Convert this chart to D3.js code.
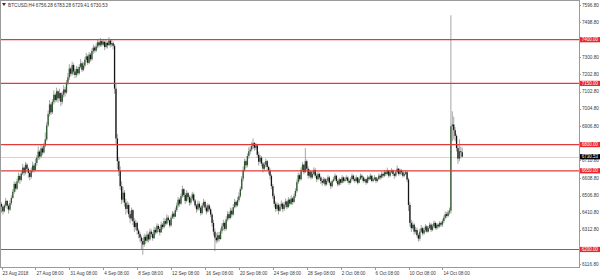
<!DOCTYPE html>
<html><head><meta charset="utf-8">
<script src="https://cdn.jsdelivr.net/npm/d3@7"></script>
<style>html,body{margin:0;padding:0;background:#fff;} svg{display:block;font-family:"Liberation Sans",Arial,sans-serif;}</style>
</head><body><svg id="c" width="600" height="280"></svg>
<script>
const symbol = "BTCUSD,H4";
const headerValues = ["6756.28", "6783.28", "6729.41", "6730.53"];
const firstOpen = 6460;
const closes = [
6445,6418,6452,6478,6450,6428,6465,
6495,6530,6575,6548,6590,6620,6598,
6635,6668,6640,6685,6662,6638,6615,6650,6680,6655,6695,
6725,6760,6732,6778,6755,6795,6830,
6910,6975,7030,6985,7045,7085,7055,7105,
7065,7095,7045,7085,7115,7098,
7155,7185,7235,7205,7255,7218,7198,
7232,7208,7245,7265,7228,7252,7285,
7305,7268,7315,7288,7335,7355,7338,
7362,7385,7368,7392,7372,7388,7358,7382,7368,7395,7372,7380,7365,
7120,6835,6705,
6650,6562,6485,6525,6468,6432,
6455,6402,6378,6425,6362,6328,6352,6308,6288,6268,
6248,6228,6272,6250,
6285,6258,6302,6288,6265,6312,6298,6335,6318,6298,6342,6328,6362,6348,6382,6368,6338,6382,6405,6388,6425,
6452,6485,6462,6505,6545,6512,6478,6522,6500,6468,6492,6515,6480,6452,
6430,6462,6440,6408,6452,6472,6440,6418,6452,6430,6400,
6352,6302,6268,6252,6282,6260,6305,
6332,6352,6318,6372,6402,6380,6422,6400,6442,6472,6452,6482,6505,6545,
6605,6655,6705,6682,6735,6762,6772,
6792,6808,6782,6795,
6742,6702,6725,6692,6662,6685,6705,6672,6652,6622,
6562,6505,6462,6432,6455,6422,6445,
6462,6432,6455,6475,6442,6485,6462,6492,6472,6505,6535,
6585,6625,6602,6655,6685,6642,6705,
6662,6622,6645,6612,6632,6655,6622,6602,6632,6612,6592,
6582,6602,6572,6592,6612,6582,6562,6592,6602,6622,6592,6572,6602,6582,6612,6592,6602,
6612,6592,6582,6602,6622,6602,6592,6612,6582,6602,6622,6612,6592,6602,6582,6612,6602,6622,6592,6602,6612,6592,6602,6622,6612,
6632,6622,6642,6632,6652,6622,6642,6652,6632,6622,6642,6662,6632,6652,6642,6622,6632,6642,
6600,6455,6352,6322,6342,
6302,6312,6282,6262,6302,6322,6292,6312,6332,6302,6322,6342,6312,6332,6352,6322,6342,6332,6352,6342,
6362,6382,6402,6392,6412,6422,
6905,6915,6882,
6850,6780,6720,6762,6756.28,6730.53
];
const highs = [
6470,6450,6462,6495,6482,6458,6480,
6510,6545,6590,6585,6605,6640,6630,
6650,6690,6675,6700,6695,6670,6650,6668,6702,6690,6720,
6740,6790,6770,6800,6790,6810,6870,
6930,6995,7055,7040,7060,7110,7095,7125,
7110,7120,7100,7105,7140,7130,
7170,7210,7260,7245,7275,7265,7235,
7250,7245,7260,7290,7275,7270,7300,
7325,7315,7330,7325,7350,7372,7365,
7380,7398,7395,7410,7400,7405,7395,7400,7390,7415,7400,7398,7390,
7375,7150,6860,
6730,6675,6590,6560,6540,6490,
6475,6468,6420,6440,6430,6380,6370,6360,6320,6300,
6280,6265,6290,6285,
6305,6295,6320,6315,6300,6330,6325,6350,6345,6330,6360,6352,6380,6375,6400,6395,6372,6395,6420,6415,6440,
6468,6500,6495,6520,6565,6550,6525,6540,6530,6510,6505,6530,6525,6490,
6460,6480,6475,6450,6465,6490,6480,6455,6465,6460,6440,
6410,6370,6320,6295,6300,6300,6320,
6350,6370,6360,6390,6420,6415,6440,6435,6460,6490,6480,6500,6525,6560,
6620,6675,6720,6715,6750,6785,6790,
6815,6835,6815,6810,
6800,6760,6740,6735,6700,6700,6720,6712,6680,6665,
6630,6575,6520,6475,6470,6465,6460,
6480,6470,6470,6492,6480,6500,6492,6510,6500,6520,6550,
6600,6640,6635,6670,6700,6690,6780,
6715,6675,6660,6650,6648,6670,6665,6635,6645,6640,6620,
6605,6615,6610,6605,6625,6620,6590,6600,6615,6635,6625,6600,6612,6605,6625,6618,6615,
6625,6618,6600,6612,6635,6628,6610,6625,6615,6610,6635,6630,6620,6612,6605,6625,6620,6635,6625,6612,6625,6615,6612,6635,6630,
6645,6640,6655,6650,6668,6655,6652,6665,6658,6640,6652,6680,6665,6662,6660,6648,6645,6652,
6650,6610,6470,6370,6360,
6350,6330,6325,6292,6318,6340,6330,6325,6345,6340,6335,6355,6350,6345,6365,6360,6352,6350,6362,6360,
6375,6395,6418,6415,6425,6440,
7540,6990,6960,
6900,6860,6800,6830,6790,6783.28
];
const lows = [
6410,6400,6412,6440,6430,6405,6420,
6455,6490,6520,6530,6540,6580,6575,
6590,6625,6622,6630,6648,6610,6595,6605,6640,6640,6650,
6680,6712,6715,6725,6740,6748,6785,
6820,6900,6960,6970,6975,7030,7040,7045,
7040,7050,7020,7030,7070,7075,
7090,7140,7170,7190,7195,7200,7180,
7185,7195,7200,7235,7215,7220,7240,
7270,7255,7262,7275,7280,7320,7325,
7330,7350,7355,7360,7360,7365,7340,7350,7350,7365,7355,7360,7345,
7090,6800,6660,
6620,6540,6460,6470,6445,6400,
6410,6385,6350,6365,6340,6300,6310,6285,6265,6240,
6200,6170,6215,6230,
6240,6240,6250,6270,6250,6260,6285,6290,6300,6280,6295,6315,6320,6335,6340,6355,6325,6330,6375,6375,6385,
6415,6440,6445,6455,6495,6500,6460,6470,6485,6450,6455,6480,6470,6440,
6410,6420,6425,6395,6400,6440,6425,6400,6410,6418,6385,
6330,6280,6190,6235,6240,6245,6255,
6290,6310,6305,6310,6360,6370,6375,6385,6395,6435,6440,6445,6470,6495,
6535,6590,6645,6665,6670,6720,6745,
6760,6775,6765,6770,
6725,6680,6690,6675,6640,6650,6670,6655,6630,6600,
6545,6490,6440,6415,6420,6400,6415,
6430,6415,6420,6440,6430,6440,6450,6455,6455,6465,6495,
6525,6575,6590,6595,6645,6630,6640,
6650,6605,6610,6600,6605,6625,6610,6585,6595,6600,6575,
6565,6575,6560,6565,6585,6570,6545,6555,6585,6595,6580,6560,6565,6570,6578,6582,6585,
6592,6580,6570,6578,6595,6590,6580,6585,6572,6578,6598,6600,6580,6585,6570,6578,6592,6598,6585,6585,6595,6580,6585,6598,6600,
6605,6610,6615,6620,6625,6610,6615,6635,6620,6605,6615,6635,6622,6625,6628,6610,6615,6625,
6585,6420,6330,6300,6315,
6285,6290,6270,6245,6250,6295,6280,6285,6300,6295,6298,6315,6300,6305,6325,6315,6312,6320,6325,6330,
6330,6350,6372,6380,6385,6400,
6405,6820,6830,
6820,6760,6690,6705,6720,6729.41
];
const priceTicks = [7596.80,7498.80,7300.80,7202.80,7102.80,7004.80,6906.80,6710.80,6608.80,6506.80,6410.80,6312.80,6116.80];
const levels = [7400, 7150, 6800, 6650, 6200];
const lastPrice = 6730.53;
const timeLabels = ["23 Aug 2018","27 Aug 08:00","31 Aug 08:00","4 Sep 08:00","8 Sep 08:00","12 Sep 08:00","16 Sep 08:00","20 Sep 08:00","24 Sep 08:00","28 Sep 08:00","2 Oct 08:00","6 Oct 08:00","10 Oct 08:00","14 Oct 08:00"];
const timeLabelBars = [0,24,48,72,96,120,144,168,192,216,240,264,288,312];

const bars = closes.map((c, i) => ({i, o: i === 0 ? firstOpen : closes[i - 1], h: highs[i], l: lows[i], c}));

const svg = d3.select("#c");
const plotR = 579, plotB = 267;
const x = d3.scaleLinear().domain([0, 409]).range([1.5, plotR + 0.5]);
const y = d3.scaleLinear().domain([6099.8, 7621.4]).range([plotB, 1]);
const py = v => Math.round(y(v)) + 0.5;

// bid line
svg.append("line").attr("x1", 0).attr("x2", plotR).attr("y1", py(lastPrice)).attr("y2", py(lastPrice))
  .attr("stroke", "#d4d4d4").attr("stroke-width", 1);

// candles
const g = svg.append("g");
g.selectAll("line.w").data(bars).join("line").attr("class", "w")
  .attr("x1", d => x(d.i)).attr("x2", d => x(d.i))
  .attr("y1", d => y(d.h)).attr("y2", d => y(d.l))
  .attr("stroke", "#9c9c9c").attr("stroke-width", 0.9);
g.selectAll("rect.b").data(bars).join("rect").attr("class", "b")
  .attr("x", d => x(d.i) - 0.65)
  .attr("width", 1.3)
  .attr("y", d => y(Math.max(d.o, d.c)))
  .attr("height", d => Math.max(1, Math.abs(y(d.o) - y(d.c))))
  .attr("fill", d => d.c >= d.o ? "#2e5a30" : "#151515");

// levels
svg.selectAll("line.lv").data(levels).join("line").attr("class", "lv")
  .attr("x1", 0).attr("x2", plotR)
  .attr("y1", d => y(d)).attr("y2", d => y(d))
  .attr("stroke", "#e03a3a").attr("stroke-width", 1.2);

// frame
svg.append("rect").attr("x", 0.5).attr("y", 0.5).attr("width", plotR).attr("height", plotB)
  .attr("fill", "none").attr("stroke", "#9a9a9a").attr("stroke-width", 1);

// price axis
svg.selectAll("text.pt").data(priceTicks).join("text").attr("class", "pt")
  .attr("x", 582).attr("y", d => y(d)).attr("dy", "0.35em")
  .attr("font-size", 4.7).attr("fill", "#3a3a3a").text(d => d.toFixed(2));
svg.selectAll("line.ptk").data(priceTicks).join("line").attr("class","ptk")
  .attr("x1", plotR).attr("x2", plotR + 2).attr("y1", d => py(d)).attr("y2", d => py(d))
  .attr("stroke", "#9a9a9a");

const tags = levels.map(v => ({v, bg: "#e8282a"})).concat([{v: lastPrice, bg: "#000"}]);
const tg = svg.selectAll("g.tag").data(tags).join("g").attr("class", "tag")
  .attr("transform", d => `translate(${plotR + 1},${y(d.v)})`);
tg.append("rect").attr("x", 0).attr("y", -2.6).attr("width", 20).attr("height", 5.2).attr("fill", d => d.bg);
tg.append("text").attr("x", 1.8).attr("y", 0).attr("dy", "0.36em").attr("font-size", 4.5).attr("fill", "#fff")
  .text(d => d.v.toFixed(2));

// time axis
svg.selectAll("line.tt").data(timeLabelBars).join("line").attr("class", "tt")
  .attr("x1", d => Math.round(x(d)) + 0.5).attr("x2", d => Math.round(x(d)) + 0.5)
  .attr("y1", plotB).attr("y2", plotB + 3).attr("stroke", "#9a9a9a");
svg.selectAll("text.tl").data(timeLabels).join("text").attr("class", "tl")
  .attr("x", (d, i) => x(timeLabelBars[i]) + 1).attr("y", 273).attr("dy", "0.35em")
  .attr("font-size", 4.6).attr("fill", "#3a3a3a").text(d => d);

// header
svg.append("path").attr("d", "M2,3 L6,3 L4,6 Z").attr("fill", "#333");
svg.append("text").attr("x", 8).attr("y", 5).attr("dy", "0.35em").attr("font-size", 4.7).attr("fill", "#333")
  .text(symbol + "  " + headerValues.join(" "));
</script></body></html>
